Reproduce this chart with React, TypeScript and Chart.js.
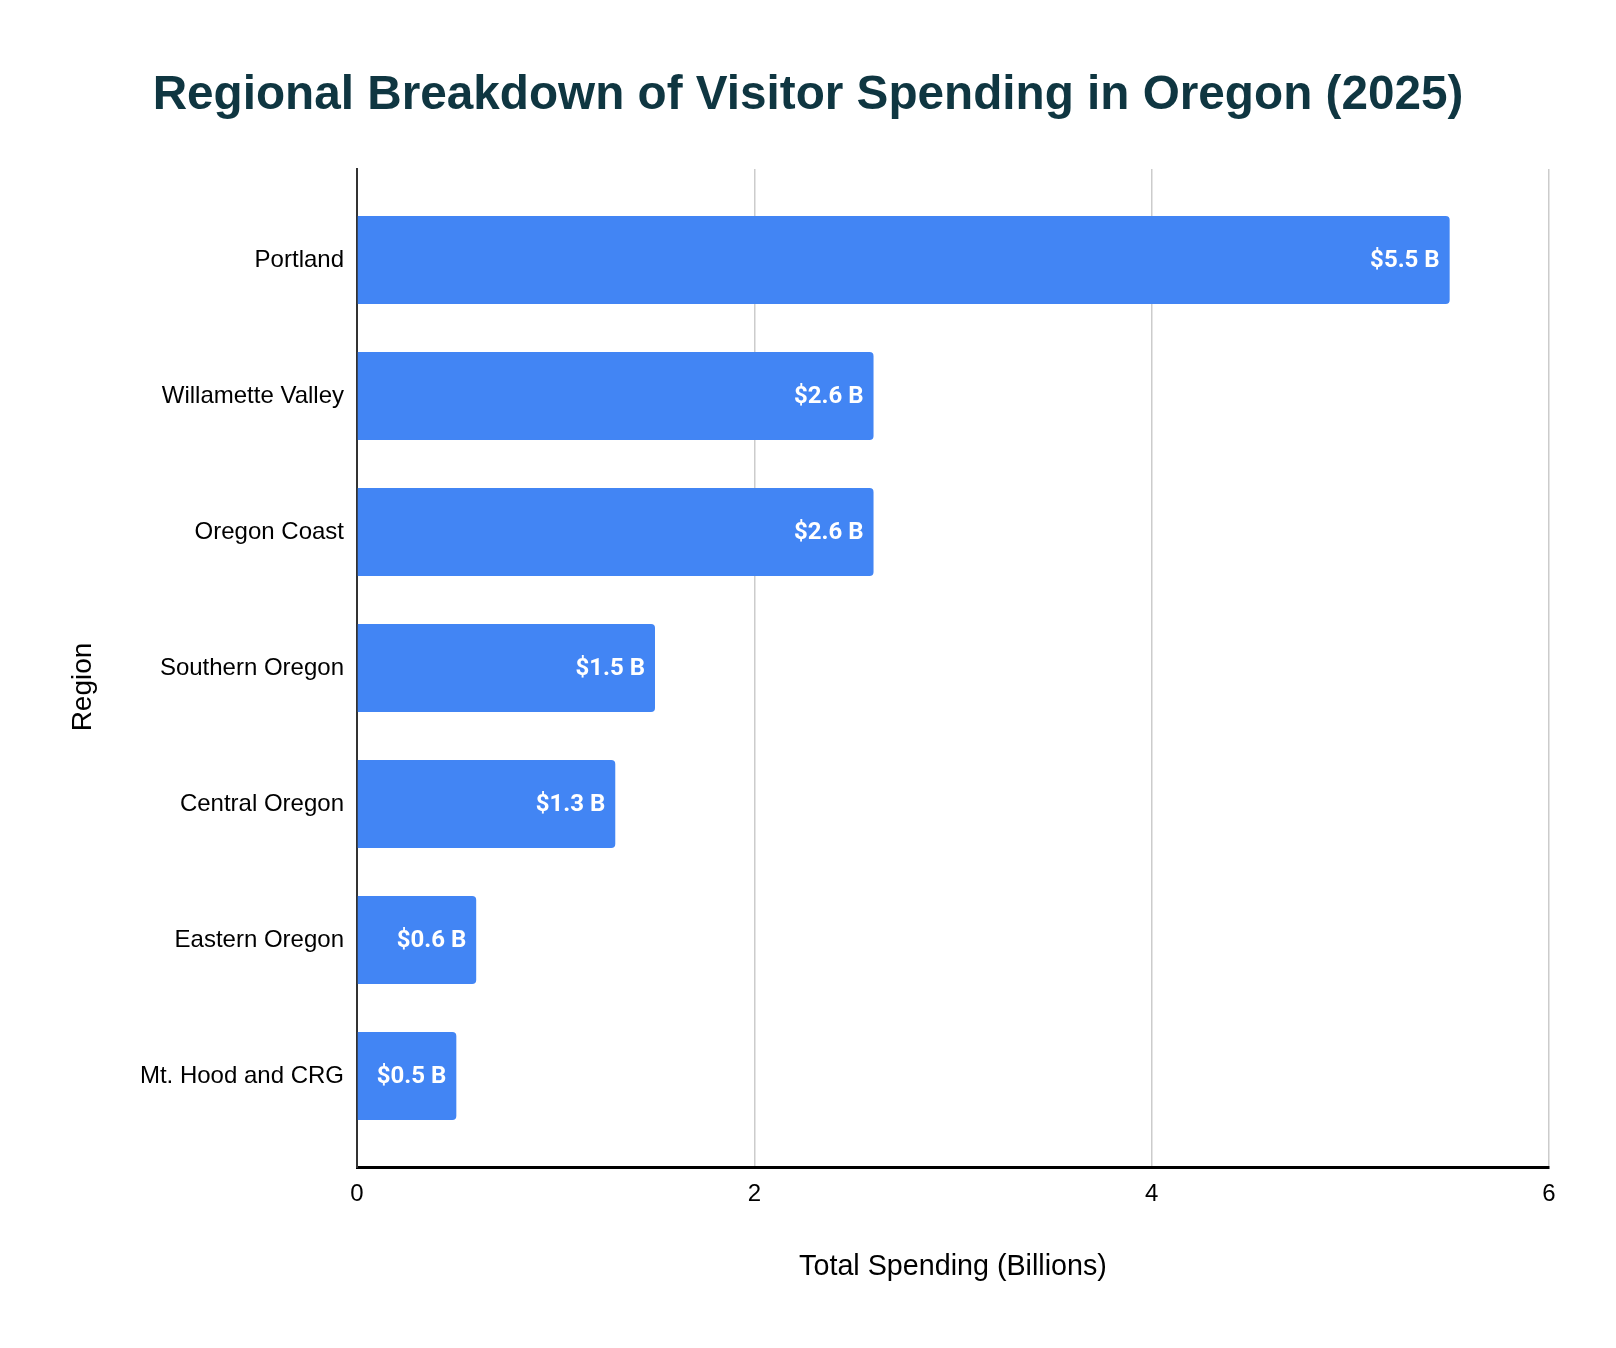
import { useEffect, useRef } from 'react';
import { Chart, registerables } from 'chart.js';

Chart.register(...registerables);

const regions = [
  'Portland',
  'Willamette Valley',
  'Oregon Coast',
  'Southern Oregon',
  'Central Oregon',
  'Eastern Oregon',
  'Mt. Hood and CRG',
];
const spending = [5.5, 2.6, 2.6, 1.5, 1.3, 0.6, 0.5];
const xTicks = [0, 2, 4, 6];

const TITLE = 'Regional Breakdown of Visitor Spending in Oregon (2025)';
const Y_TITLE = 'Region';
const SANS = '"Liberation Sans", Arial, sans-serif';

// main title centred on the whole canvas, plus the y axis title
const titlePlugin = {
  id: 'centerTitle',
  afterDraw(chart: any) {
    const { ctx } = chart;
    ctx.save();
    ctx.font = `bold 47.7px ${SANS}`;
    ctx.fillStyle = '#0f3641';
    ctx.textAlign = 'center';
    ctx.textBaseline = 'middle';
    ctx.fillText(TITLE, chart.width / 2, 96);

    ctx.translate(83, 687);
    ctx.rotate(-Math.PI / 2);
    ctx.font = `28px ${SANS}`;
    ctx.fillStyle = '#000000';
    ctx.fillText(Y_TITLE, 0, 0);
    ctx.restore();
  },
};

// white value labels inside the end of each bar
const barLabels = {
  id: 'barLabels',
  afterDatasetsDraw(chart: any) {
    const { ctx } = chart;
    const meta = chart.getDatasetMeta(0);
    ctx.save();
    ctx.font = 'bold 24px Roboto, sans-serif';
    ctx.fillStyle = '#ffffff';
    ctx.textAlign = 'right';
    ctx.textBaseline = 'middle';
    meta.data.forEach((bar: any, i: number) => {
      ctx.fillText(`$${spending[i].toFixed(1)} B`, bar.x - 10, bar.y + 1);
    });
    ctx.restore();
  },
};

export default function App() {
  const canvasRef = useRef<HTMLCanvasElement>(null);

  useEffect(() => {
    document.body.style.margin = '0';
    if (!canvasRef.current) return;
    const ctx = canvasRef.current.getContext('2d');
    if (!ctx) return;

    const chart = new Chart(ctx, {
      type: 'bar',
      data: {
        datasets: [{
          label: 'Total Spending',
          data: spending.map((v, i) => ({ x: v, y: i })),
          backgroundColor: '#4285f4',
          borderRadius: 4,
          borderSkipped: 'start',
          categoryPercentage: 1,
          barPercentage: 0.647,
        }],
      },
      options: {
        indexAxis: 'y',
        responsive: false,
        animation: false,
        layout: { padding: { top: 169, right: 67, bottom: 0, left: 0 } },
        plugins: {
          legend: { display: false },
          title: { display: false },
          tooltip: { enabled: false },
        },
        scales: {
          x: {
            type: 'linear',
            min: 0,
            max: 6,
            afterBuildTicks: (scale: any) => {
              scale.ticks = xTicks.map((v) => ({ value: v }));
            },
            afterFit: (scale: any) => { scale.height = 181; },
            grid: { color: '#cccccc', lineWidth: 1.5, drawTicks: false },
            border: { color: '#000000', width: 3 },
            ticks: {
              padding: 13,
              color: '#000000',
              font: { family: SANS, size: 24 },
            },
            title: {
              display: true,
              text: 'Total Spending (Billions)',
              color: '#000000',
              font: { family: SANS, size: 28.7 },
              padding: { top: 0, bottom: 64 },
            },
          },
          y: {
            type: 'linear',
            reverse: true,
            offset: false,
            bounds: 'data',
            min: -0.67,
            max: regions.length - 1 + 0.67,
            afterBuildTicks: (scale: any) => {
              scale.ticks = regions.map((_, i) => ({ value: i }));
            },
            afterFit: (scale: any) => { scale.width = 357; },
            grid: { display: false, drawTicks: false, offset: false },
            border: { color: '#333333', width: 2 },
            ticks: {
              padding: 13,
              autoSkip: false,
              color: '#000000',
              font: { family: SANS, size: 24 },
              callback: (v: any) => regions[v as number] ?? '',
            },
          },
        },
      },
      plugins: [titlePlugin, barLabels],
    });

    return () => chart.destroy();
  }, []);

  return (
    <div style={{ width: 1616, height: 1348, background: '#ffffff' }}>
      <canvas ref={canvasRef} width={1616} height={1348}></canvas>
    </div>
  );
}
